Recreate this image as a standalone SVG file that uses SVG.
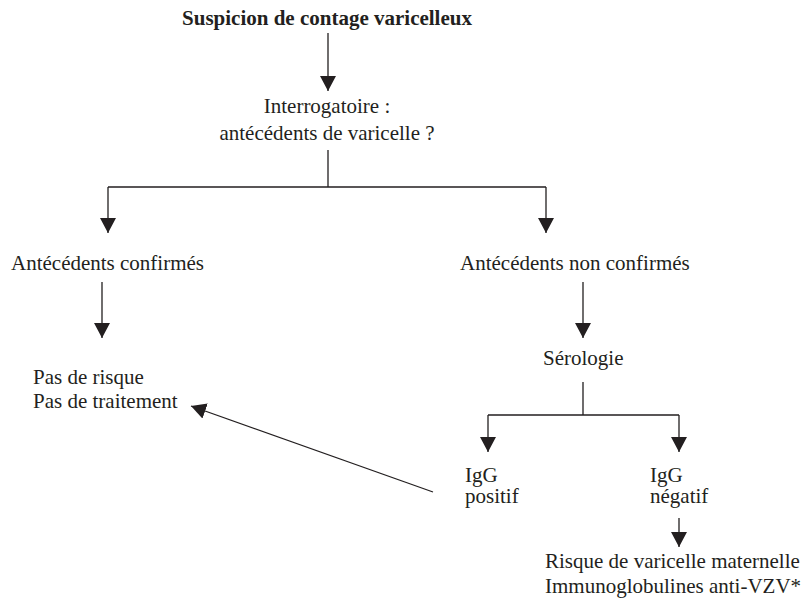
<svg xmlns="http://www.w3.org/2000/svg" width="806" height="603" viewBox="0 0 806 603">
<style>
text{font-family:"Liberation Serif","Times New Roman",serif;font-size:21px;fill:#231f20}
.b{font-weight:bold}
.c{text-anchor:middle}
.ln{stroke:#231f20;stroke-width:1.3;fill:none}
</style>
<defs>
<marker id="ah" markerUnits="userSpaceOnUse" markerWidth="16" markerHeight="16" refX="15" refY="8" orient="auto">
<path d="M0,0 L15,8 L0,16 z" fill="#231f20"/>
</marker>
</defs>
<rect width="806" height="603" fill="#fff"/>
<g id="connectors">
<path class="ln" d="M328,33 V91" marker-end="url(#ah)"/>
<path class="ln" d="M328,150 V187 M108,187 H546"/>
<path class="ln" d="M108,187 V233" marker-end="url(#ah)"/>
<path class="ln" d="M546,187 V233" marker-end="url(#ah)"/>
<path class="ln" d="M102,282 V338" marker-end="url(#ah)"/>
<path class="ln" d="M583,282 V338" marker-end="url(#ah)"/>
<path class="ln" d="M583,382 V415 M488,415 H679"/>
<path class="ln" d="M488,415 V452" marker-end="url(#ah)"/>
<path class="ln" d="M679,415 V452" marker-end="url(#ah)"/>
<path class="ln" d="M679,518 V547" marker-end="url(#ah)"/>
<path class="ln" d="M433,492 L191,406" marker-end="url(#ah)"/>
</g>
<g id="n-suspicion"><text class="b c" x="327" y="25">Suspicion de contage varicelleux</text></g>
<g id="n-interrogatoire"><text class="c" x="327" y="113">Interrogatoire :</text><text class="c" x="327" y="140">antécédents de varicelle ?</text></g>
<g id="n-confirmes"><text x="11" y="270">Antécédents confirmés</text></g>
<g id="n-nonconfirmes"><text x="460" y="270">Antécédents non confirmés</text></g>
<g id="n-pasderisque"><text x="33" y="384">Pas de risque</text><text x="33" y="408">Pas de traitement</text></g>
<g id="n-serologie"><text x="543" y="365">Sérologie</text></g>
<g id="n-igg-pos"><text x="465" y="482">IgG</text><text x="465" y="503">positif</text></g>
<g id="n-igg-neg"><text x="650" y="482">IgG</text><text x="650" y="503">négatif</text></g>
<g id="n-risque"><text x="545" y="568">Risque de varicelle maternelle</text><text x="545" y="593">Immunoglobulines anti-VZV*</text></g>
</svg>
